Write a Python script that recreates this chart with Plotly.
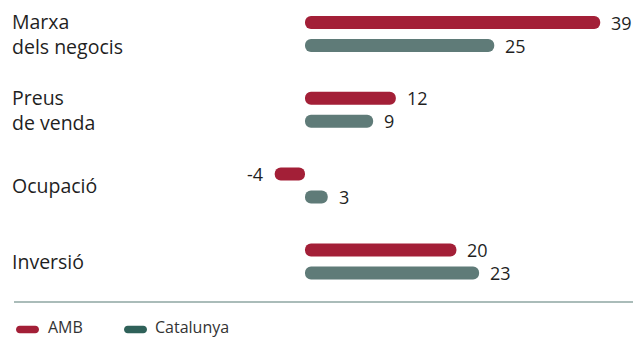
import plotly.graph_objects as go

# Survey balances (percentage points) by indicator
categories = ["Marxa<br>dels negocis", "Preus<br>de venda", "Ocupació", "Inversió"]
amb_values = [39, 12, -4, 20]
cat_values = [25, 9, 3, 23]
series_names = ["AMB", "Catalunya"]

AMB_COLOR = "#a31f37"
CAT_COLOR = "#5f7b78"
CAT_LEGEND_COLOR = "#2f6159"
TEXT_COLOR = "#1f1f1f"
FONT = "Open Sans"

W, H = 633, 338
ZERO_PX = 305          # horizontal pixel of the zero line
PX_PER_UNIT = 7.57     # horizontal pixels per percentage point
TOP_PX = 34            # centre of the first category group
GROUP_PX = 75.8        # distance between category groups
PAIR_PX = 23           # distance between the two bars of a group
BAR_PX = 13            # bar thickness

x_range = [-ZERO_PX / PX_PER_UNIT, (W - ZERO_PX) / PX_PER_UNIT]
y_range = [(H - TOP_PX) / GROUP_PX, -TOP_PX / GROUP_PX]
offset = PAIR_PX / 2 / GROUP_PX
bar_w = BAR_PX / GROUP_PX

idx = list(range(len(categories)))
amb_y = [i - offset for i in idx]
cat_y = [i + offset for i in idx]

fig = go.Figure()
for name, vals, ys, color in [(series_names[0], amb_values, amb_y, AMB_COLOR),
                              (series_names[1], cat_values, cat_y, CAT_COLOR)]:
    # explicit base -> both ends of the bar get rounded caps
    fig.add_trace(go.Bar(
        orientation="h", y=ys, x=vals, base=[0] * len(vals), name=name,
        width=bar_w, marker=dict(color=color, cornerradius="50%", line_width=0),
        showlegend=False, hoverinfo="skip"))

annotations = []
# value labels at the end of each bar
for vals, ys in [(amb_values, amb_y), (cat_values, cat_y)]:
    for v, y in zip(vals, ys):
        annotations.append(dict(
            x=v, y=y, xref="x", yref="y", text=str(v), showarrow=False,
            xanchor="left" if v >= 0 else "right", xshift=9 if v >= 0 else -10,
            font=dict(size=18, color=TEXT_COLOR, family=FONT)))
# category labels on the left
for i, c in zip(idx, categories):
    annotations.append(dict(
        x=10 / W, y=i, xref="paper", yref="y", text=c, showarrow=False,
        xanchor="left", yanchor="middle", align="left",
        font=dict(size=19.5, color=TEXT_COLOR, family=FONT)))


def pill_path(w, h):
    r = h / 2
    k = 0.5523 * r
    return (f"M{r},{-r} H{w - r} C{w - r + k},{-r} {w},{-k} {w},0 "
            f"C{w},{k} {w - r + k},{r} {w - r},{r} H{r} "
            f"C{r - k},{r} 0,{k} 0,0 C0,{-k} {r - k},{-r} {r},{-r} Z")


# legend: rounded swatch plus label per series
swatch_y = 1 - 329.5 / H
label_y = 1 - 326.5 / H
shapes = [dict(type="line", xref="paper", yref="paper",
               x0=14 / W, x1=1, y0=1 - 302 / H, y1=1 - 302 / H,
               line=dict(color="#8ea6a2", width=1.5), layer="below")]
for name, color, sx, tx in [(series_names[0], AMB_COLOR, 16, 46),
                            (series_names[1], CAT_LEGEND_COLOR, 124, 152.5)]:
    shapes.append(dict(type="path", xref="paper", yref="paper",
                       xsizemode="pixel", ysizemode="pixel",
                       xanchor=sx / W, yanchor=swatch_y,
                       path=pill_path(23, 7.5), fillcolor=color, line_width=0))
    annotations.append(dict(
        x=tx / W, y=label_y, xref="paper", yref="paper", text=name, showarrow=False,
        xanchor="left", yanchor="middle",
        font=dict(size=16, color="#333333", family=FONT)))

fig.update_layout(
    width=W, height=H,
    margin=dict(l=0, r=0, t=0, b=0, autoexpand=False),
    paper_bgcolor="white", plot_bgcolor="white",
    barmode="overlay",
    xaxis=dict(range=x_range, visible=False, fixedrange=True),
    yaxis=dict(range=y_range, visible=False, fixedrange=True),
    annotations=annotations,
    shapes=shapes,
    showlegend=False,
)

fig.write_html("out.html")
